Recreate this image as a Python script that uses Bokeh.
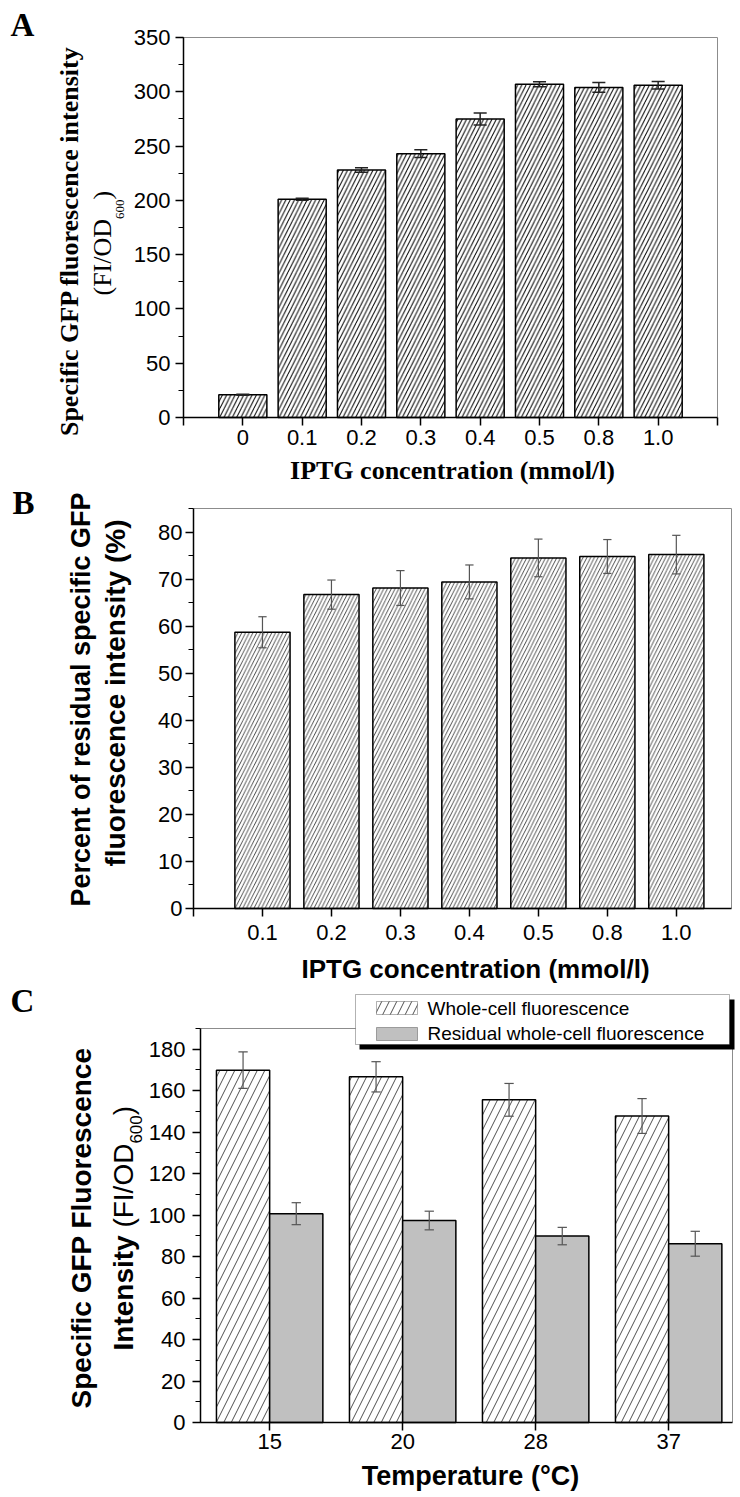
import math
from bokeh.plotting import figure
from bokeh.models import (Range1d, FixedTicker, SingleIntervalTicker, Label,
                          BoxAnnotation, ColumnDataSource, LinearAxis)
from bokeh.embed import file_html
from bokeh.resources import INLINE

# ---------------- data ----------------
A_labels = ["0", "0.1", "0.2", "0.3", "0.4", "0.5", "0.8", "1.0"]
A_values = [21, 201, 228, 243, 275, 307, 304, 306]
A_err = [0.5, 1, 2, 3.5, 5.5, 2.3, 4.5, 3.5]

B_labels = ["0.1", "0.2", "0.3", "0.4", "0.5", "0.8", "1.0"]
B_values = [58.7, 66.7, 68.1, 69.4, 74.5, 74.8, 75.2]
B_err = [3.3, 3.1, 3.7, 3.6, 4.0, 3.6, 4.1]

C_labels = ["15", "20", "28", "37"]
C_whole = [169.9, 166.7, 155.6, 147.8]
C_whole_err = [8.8, 7.3, 7.9, 8.4]
C_resid = [100.7, 97.4, 89.9, 86.2]
C_resid_err = [5.3, 4.5, 4.2, 6.0]
C_series = ["Whole-cell fluorescence", "Residual whole-cell fluorescence"]

SANS = "Liberation Sans"
SERIF = "Liberation Serif"
TICK_FS = "22px"
W, H = 740, 1497
UP = math.pi / 2

# one canvas; the default ranges are page pixels (y downwards)
p = figure(frame_width=W, frame_height=H, min_border=0,
           x_range=Range1d(0, W), y_range=Range1d(H, 0),
           x_axis_location=None, y_axis_location=None,
           output_backend="svg", toolbar_location=None, title=None)
p.outline_line_color = None
p.background_fill_color = "white"
p.border_fill_color = "white"
p.grid.visible = False


def panel_ranges(name, fx0, fx1, xlo, xhi, fy_top, fy_bot, ylo, yhi):
    """Map a panel's data window onto its frame position on the canvas."""
    sx = (fx1 - fx0) / (xhi - xlo)
    sy = (fy_bot - fy_top) / (yhi - ylo)
    p.extra_x_ranges[name] = Range1d(xlo - fx0 / sx, xlo + (W - fx0) / sx)
    p.extra_y_ranges[name] = Range1d(ylo - (H - fy_bot) / sy, ylo + fy_bot / sy)


def style_axis(ax, standoff):
    ax.axis_line_color = "black"
    ax.axis_line_width = 1.5
    ax.major_tick_line_color = "black"
    ax.major_tick_line_width = 1.5
    ax.major_tick_in = 0
    ax.major_tick_out = 8
    ax.minor_tick_line_color = "black"
    ax.minor_tick_line_width = 1.2
    ax.minor_tick_in = 0
    ax.minor_tick_out = 5
    ax.major_label_text_font = SANS
    ax.major_label_text_font_size = TICK_FS
    ax.major_label_text_color = "black"
    ax.major_label_standoff = standoff


def add_axes(name, fx0, fy_bot, xb, yb, xticks, overrides, yinterval,
             xstand, ystand):
    ya = LinearAxis(y_range_name=name, fixed_location=fx0, bounds=yb,
                    ticker=SingleIntervalTicker(interval=yinterval,
                                                num_minor_ticks=2))
    style_axis(ya, ystand)
    p.add_layout(ya, "left")
    xa = LinearAxis(x_range_name=name, fixed_location=fy_bot, bounds=xb,
                    ticker=FixedTicker(ticks=xticks))
    style_axis(xa, xstand)
    xa.minor_tick_line_color = None
    xa.major_label_overrides = overrides
    p.add_layout(xa, "below")


def outline(name, xb, yb):
    p.segment(x0=[xb[0], xb[1]], y0=[yb[1], yb[0]], x1=[xb[1], xb[1]],
              y1=[yb[1], yb[1]], x_range_name=name, y_range_name=name,
              line_color="#8c8c8c", line_width=1)


def errbars(name, xs, vals, errs, cap, color, width):
    src = ColumnDataSource(dict(
        x=xs, lo=[v - e for v, e in zip(vals, errs)],
        hi=[v + e for v, e in zip(vals, errs)],
        x0=[x - cap / 2 for x in xs], x1=[x + cap / 2 for x in xs]))
    kw = dict(source=src, line_color=color, line_width=width,
              x_range_name=name, y_range_name=name)
    p.segment(x0="x", y0="lo", x1="x", y1="hi", **kw)
    p.segment(x0="x0", y0="hi", x1="x1", y1="hi", **kw)
    p.segment(x0="x0", y0="lo", x1="x1", y1="lo", **kw)


def lab(x, y, text, font=SANS, size="26px", style="bold", angle=0.0,
        align="left", baseline="middle"):
    p.add_layout(Label(x=x, y=y, text=text, text_font=font,
                       text_font_size=size, text_font_style=style,
                       angle=angle, text_align=align, text_baseline=baseline,
                       text_color="black"))


# ---------------- Panel A ----------------
xbA, ybA = (-1, 8), (0, 350)
panel_ranges("A", 183, 717, xbA[0], xbA[1], 37, 417, ybA[0], ybA[1])
xa_pos = list(range(len(A_labels)))
outline("A", xbA, ybA)
p.vbar(x=xa_pos, top=A_values, width=0.81, bottom=0, fill_color="white",
       line_color="black", line_width=1.5, hatch_pattern="/",
       hatch_color="black", hatch_scale=8.5, hatch_weight=1.0,
       x_range_name="A", y_range_name="A")
errbars("A", xa_pos, A_values, A_err, 0.22, "#222222", 1.5)
ovA = {-1: "", 8: ""}
ovA.update({i: s for i, s in enumerate(A_labels)})
add_axes("A", 183, 417, xbA, ybA, list(range(-1, 9)), ovA, 50, 4, 5)
lab(10, 24, "A", font=SERIF, size="33px")
lab(69, 240.5, "Specific GFP fluorescence intensity", font=SERIF,
    size="26px", angle=UP, align="center")
lab(102, 295, "(FI/OD", font=SERIF, size="26px", style="normal", angle=UP)
lab(119, 218.5, "600", font=SERIF, size="13px", style="normal", angle=UP)
lab(102, 199, ")", font=SERIF, size="26px", style="normal", angle=UP)
lab(452, 469.5, "IPTG concentration (mmol/l)", font=SERIF, size="26px",
    align="center")

# ---------------- Panel B ----------------
xbB, ybB = (-1, 6.8), (0, 85)
panel_ranges("B", 193, 731, xbB[0], xbB[1], 508, 908, ybB[0], ybB[1])
xb_pos = list(range(len(B_labels)))
outline("B", xbB, ybB)
p.vbar(x=xb_pos, top=B_values, width=0.8, bottom=0, fill_color="white",
       line_color="black", line_width=1.5, hatch_pattern="/",
       hatch_color="#222222", hatch_scale=7.5, hatch_weight=0.8,
       x_range_name="B", y_range_name="B")
errbars("B", xb_pos, B_values, B_err, 0.12, "#555555", 1.2)
ovB = {-1: ""}
ovB.update({i: s for i, s in enumerate(B_labels)})
add_axes("B", 193, 908, xbB, ybB, list(range(-1, 7)), ovB, 10, 8, 3)
lab(12, 502, "B", font=SERIF, size="33px")
lab(80.5, 699, "Percent of residual specific GFP", size="27px",
    angle=UP, align="center")
lab(115, 692.5, "fluorescence intensity (%)", size="28px",
    angle=UP, align="center")
lab(475, 968.5, "IPTG concentration (mmol/l)", size="26px", align="center")

# ---------------- Panel C ----------------
xbC, ybC = (-0.52, 3.48), (0, 190)
panel_ranges("C", 200, 732, xbC[0], xbC[1], 1028, 1422, ybC[0], ybC[1])
xc_pos = list(range(len(C_labels)))
xw = [x - 0.2 for x in xc_pos]
xr = [x + 0.2 for x in xc_pos]
outline("C", xbC, ybC)
p.vbar(x=xw, top=C_whole, width=0.4, bottom=0, fill_color="white",
       line_color="black", line_width=1.5, hatch_pattern="/",
       hatch_color="#222222", hatch_scale=15, hatch_weight=0.8,
       x_range_name="C", y_range_name="C")
p.vbar(x=xr, top=C_resid, width=0.4, bottom=0, fill_color="#c0c0c0",
       line_color="black", line_width=1.5,
       x_range_name="C", y_range_name="C")
errbars("C", xw, C_whole, C_whole_err, 0.07, "#555555", 1.2)
errbars("C", xr, C_resid, C_resid_err, 0.07, "#555555", 1.2)
add_axes("C", 200, 1422, xbC, ybC, xc_pos,
         {i: s for i, s in enumerate(C_labels)}, 20, 3, 7)
lab(10, 1000, "C", font=SERIF, size="33px")
lab(80.5, 1408, "Specific GFP Fluorescence", size="28px", angle=UP)
lab(122.5, 1350, "Intensity", size="28px", angle=UP)
lab(122.5, 1227.1, "(FI/OD", size="28px", style="normal", angle=UP)
lab(135.2, 1143.1, "600", size="17px", style="normal", angle=UP)
lab(122.5, 1114.7, ")", size="28px", style="normal", angle=UP)
lab(470, 1475.5, "Temperature (°C)", size="27px", align="center")


def box(l, r, t, b, **kw):
    p.add_layout(BoxAnnotation(left=l, right=r, top=t, bottom=b, **kw))


# legend: shadow, frame, swatches, texts
box(359, 734, 999, 1049, fill_color="black", fill_alpha=1, line_color=None)
box(355, 729, 994, 1044, fill_color="white", fill_alpha=1,
    line_color="black", line_width=1)
box(376, 417, 1001, 1014, fill_color="white", fill_alpha=1,
    line_color="black", line_width=1, hatch_pattern="/",
    hatch_color="#222222", hatch_scale=15, hatch_weight=0.8)
box(376, 417, 1027, 1040, fill_color="#c0c0c0", fill_alpha=1,
    line_color="black", line_width=1)
lab(427, 1008, C_series[0], size="19px", style="normal")
lab(427, 1033, C_series[1], size="19px", style="normal")

open("out.html", "w").write(file_html(p, INLINE))
